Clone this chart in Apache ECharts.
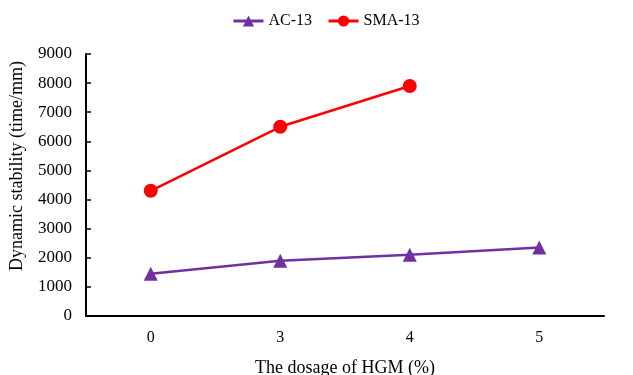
<!DOCTYPE html>
<html>
<head>
<meta charset="utf-8">
<script src="https://cdn.jsdelivr.net/npm/echarts@6/dist/echarts.min.js"></script>
<style>html,body{margin:0;padding:0;background:#fff}#c{width:633px;height:375px}</style>
</head>
<body>
<div id="c"></div>
<script>
const categories = ['0', '3', '4', '5'];
const ac13 = [1450, 1900, 2100, 2350];
const sma13 = [4300, 6500, 7900, null];
const yTicks = { min: 0, max: 9000, interval: 1000 };

const font = '"Liberation Serif", "Times New Roman", serif';
const chart = echarts.init(document.getElementById('c'));
chart.setOption({
  animation: false,
  backgroundColor: '#fff',
  grid: { left: 86, top: 54, right: 29, bottom: 59, containLabel: false, outerBoundsMode: 'none' },
  legend: {
    top: 8, left: 227,
    itemWidth: 30, itemHeight: 14, itemGap: 15,
    lineStyle: { width: 3 },
    textStyle: { fontFamily: font, fontSize: 16, color: '#000' },
    data: ['AC-13', 'SMA-13']
  },
  xAxis: {
    type: 'category',
    data: categories,
    boundaryGap: true,
    name: 'The dosage of HGM (%)',
    nameLocation: 'middle',
    nameGap: 43,
    nameTextStyle: { fontFamily: font, fontSize: 18, color: '#000' },
    axisLine: { lineStyle: { color: '#000', width: 2 } },
    axisTick: { inside: true, length: 5, lineStyle: { color: '#000', width: 1.5 } },
    axisLabel: { fontFamily: font, fontSize: 16, color: '#000', margin: 14 },
    splitLine: { show: false }
  },
  yAxis: {
    type: 'value',
    min: yTicks.min, max: yTicks.max, interval: yTicks.interval,
    name: 'Dynamic stability (time/mm)',
    nameLocation: 'middle',
    nameGap: 60,
    nameTextStyle: { fontFamily: font, fontSize: 18, color: '#000', padding: [0, 0, 0, 38] },
    axisLine: { show: true, lineStyle: { color: '#000', width: 2 } },
    axisTick: { show: true, inside: true, length: 5, lineStyle: { color: '#000', width: 1.5 } },
    axisLabel: { fontFamily: font, fontSize: 17, color: '#000', margin: 14, formatter: v => String(v) },
    splitLine: { show: false }
  },
  series: [
    {
      name: 'AC-13', type: 'line', data: ac13,
      symbol: 'triangle', symbolSize: 14,
      itemStyle: { color: '#7030a0' },
      lineStyle: { color: '#7030a0', width: 2.5 }
    },
    {
      name: 'SMA-13', type: 'line', data: sma13,
      symbol: 'circle', symbolSize: 14,
      itemStyle: { color: '#ff0000' },
      lineStyle: { color: '#ff0000', width: 2.5 }
    }
  ]
});
</script>
</body>
</html>
